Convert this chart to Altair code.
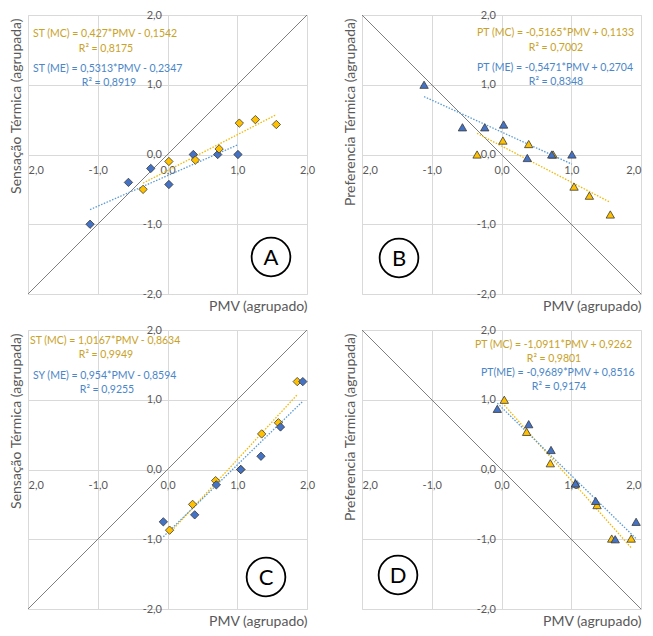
import json
import altair as alt
import pandas as pd

# ---------------- data ----------------
tick_values = [-2, -1, 0, 1, 2]
x_tick_labels = ["2,0", "-1,0", "0,0", "1,0", "2,0"]      # left "-2,0" is clipped in the original
y_tick_labels = ["-2,0", "-1,0", "0,0", "1,0", "2,0"]

diag_x = [-2, 2]
diag_up = [-2, 2]
diag_down = [2, -2]

# Panel A  (Sensação Térmica vs PMV)
A_mc_x = [-0.35, 0.02, 0.40, 0.74, 1.03, 1.26, 1.56]
A_mc_y = [-0.50, -0.10, -0.08, 0.08, 0.45, 0.50, 0.43]
A_me_x = [-1.11, -0.56, -0.24, 0.02, 0.37, 0.72, 1.01]
A_me_y = [-1.00, -0.40, -0.20, -0.43, 0.00, 0.00, 0.00]

# Panel B  (Preferencia Térmica vs PMV)
B_mc_x = [-0.35, 0.02, 0.39, 0.74, 1.04, 1.26, 1.56]
B_mc_y = [0.00, 0.20, 0.15, 0.00, -0.46, -0.59, -0.86]
B_me_x = [-1.11, -0.56, -0.24, 0.03, 0.37, 0.72, 1.01]
B_me_y = [1.00, 0.39, 0.39, 0.43, -0.05, 0.00, 0.00]

# Panel C
C_mc_x = [0.03, 0.36, 0.69, 1.05, 1.35, 1.59, 1.86]
C_mc_y = [-0.87, -0.50, -0.16, 0.00, 0.51, 0.67, 1.26]
C_me_x = [-0.06, 0.39, 0.70, 1.05, 1.34, 1.62, 1.94]
C_me_y = [-0.75, -0.65, -0.22, 0.00, 0.19, 0.61, 1.26]

# Panel D
D_mc_x = [0.04, 0.36, 0.70, 1.06, 1.37, 1.58, 1.86]
D_mc_y = [1.00, 0.54, 0.09, -0.20, -0.51, -0.99, -0.99]
D_me_x = [-0.06, 0.39, 0.71, 1.06, 1.35, 1.63, 1.93]
D_me_y = [0.87, 0.65, 0.28, -0.20, -0.45, -1.00, -0.75]

# annotation texts
A_txt = ["ST (MC) = 0,427*PMV - 0,1542", "R² = 0,8175", "ST (ME) = 0,5313*PMV - 0,2347", "R² = 0,8919"]
B_txt = ["PT (MC) = -0,5165*PMV + 0,1133", "R² = 0,7002", "PT (ME) = -0,5471*PMV + 0,2704", "R² = 0,8348"]
C_txt = ["ST (MC) = 1,0167*PMV - 0,8634", "R² = 0,9949", "SY (ME) = 0,954*PMV - 0,8594", "R² = 0,9255"]
D_txt = ["PT (MC) = -1,0911*PMV + 0,9262", "R² = 0,9801", "PT(ME) = -0,9689*PMV + 0,8516", "R² = 0,9174"]

x_title = "PMV (agrupado)"
yA_title = "Sensação Térmica (agrupada)"
yB_title = "Preferencia Térmica (agrupada)"

# ---------------- styling ----------------
W = H = 279
FONT = "Lato"
GRAY = "#595959"
ORANGE = "#FFC000"
BLUE = "#4472C4"
ORANGE_TREND = "#F2B800"
BLUE_TREND = "#5B9BD5"
ORANGE_TXT = "#C9A227"
BLUE_TXT = "#4A86C8"

x_label_expr = json.dumps(x_tick_labels) + "[datum.value + 2]"
y_label_expr = json.dumps(y_tick_labels) + "[datum.value + 2]"

sc = alt.Scale(domain=[-2, 2], nice=False, zero=False)


def x_axis(right_flush):
    test_right = "datum.value == 2" if right_flush else "datum.value == 99"
    return alt.Axis(
        values=tick_values, labelExpr=x_label_expr, orient="bottom", offset=-H / 2,
        grid=True, gridColor="#D9D9D9", domain=False, ticks=False, tickSize=0,
        labelPadding=10, labelFont=FONT, labelFontSize=11, labelColor=GRAY,
        labelFlush=False, labelOverlap=False,
        labelAlign={"condition": [{"test": "datum.value == -2", "value": "left"},
                                  {"test": test_right, "value": "right"}],
                    "value": "center"},
        title=x_title, titleX=W, titleY=H / 2 + 12, titleAlign="right", titleBaseline="middle",
        titleFont=FONT, titleFontSize=14, titleFontWeight="normal", titleColor=GRAY,
    )


def y_axis(title):
    return alt.Axis(
        values=tick_values, labelExpr=y_label_expr, orient="left", offset=-W / 2,
        grid=True, gridColor="#D9D9D9", domain=False, ticks=False, tickSize=0,
        labelPadding=6, labelFont=FONT, labelFontSize=11, labelColor=GRAY,
        labelFlush=False, labelOverlap=False,
        title=title, titleX=-W / 2 - 12, titleY=3, titleAngle=270, titleAlign="right",
        titleBaseline="middle", titleFont=FONT, titleFontSize=14, titleFontWeight="normal",
        titleColor=GRAY,
    )


def panel(mc_x, mc_y, me_x, me_y, diag_y, shape, texts, txt_pos, letter, circ_pos, ytitle,
          orange_top, right_flush):
    mc = pd.DataFrame({"x": mc_x, "y": mc_y})
    me = pd.DataFrame({"x": me_x, "y": me_y})
    dg = pd.DataFrame({"x": diag_x, "y": diag_y})

    X = alt.X("x:Q", scale=sc, axis=x_axis(right_flush))
    Y = alt.Y("y:Q", scale=sc, axis=y_axis(ytitle))

    base = alt.Chart(dg).mark_line(color="#7F7F7F", strokeWidth=1).encode(x=X, y=Y)

    def trend(df, color):
        return alt.Chart(df).transform_regression("x", "y").mark_line(
            color=color, strokeWidth=1.3, strokeDash=[1.5, 1.5]
        ).encode(x=X, y=Y)

    def pts(df, color):
        return alt.Chart(df).mark_point(
            shape=shape, filled=True, fill=color, stroke="#3A3A3A", strokeWidth=0.8,
            size=70, opacity=1,
        ).encode(x=X, y=Y)

    layers = [base, trend(mc, ORANGE_TREND), trend(me, BLUE_TREND)]
    if orange_top:
        layers += [pts(me, BLUE), pts(mc, ORANGE)]
    else:
        layers += [pts(mc, ORANGE), pts(me, BLUE)]

    one = pd.DataFrame({"t": [0]})
    colors = [ORANGE_TXT, ORANGE_TXT, BLUE_TXT, BLUE_TXT]
    aligns = ["left", "center", "left", "center"]
    for t, (px, py), c, al in zip(texts, txt_pos, colors, aligns):
        layers.append(
            alt.Chart(one).mark_text(
                text=t, font=FONT, fontSize=10.5, color=c, align=al, baseline="middle"
            ).encode(x=alt.value(px), y=alt.value(py))
        )
    layers.append(
        alt.Chart(one).mark_point(
            shape="circle", filled=False, size=1500, color="black", strokeWidth=1.8, opacity=1
        ).encode(x=alt.value(circ_pos[0]), y=alt.value(circ_pos[1]))
    )
    layers.append(
        alt.Chart(one).mark_text(
            text=letter, font=FONT, fontSize=22, color="black", align="center", baseline="middle"
        ).encode(x=alt.value(circ_pos[0]), y=alt.value(circ_pos[1] + 1))
    )
    return alt.layer(*layers).properties(width=W, height=H)


pA = panel(A_mc_x, A_mc_y, A_me_x, A_me_y, diag_up, "diamond", A_txt,
           [(5, 19), (78, 34), (5, 54), (81, 68)], "A", (W - 36, H - 37), yA_title, True, False)
pB = panel(B_mc_x, B_mc_y, B_me_x, B_me_y, diag_down, "triangle-up", B_txt,
           [(115, 18), (194, 33), (115, 53), (194, 67)], "B", (37, H - 36), yB_title, False, True)
pC = panel(C_mc_x, C_mc_y, C_me_x, C_me_y, diag_up, "diamond", C_txt,
           [(2, 11), (78, 25), (5, 46), (79, 60)], "C", (W - 41, H - 32), yA_title, False, False)
pD = panel(D_mc_x, D_mc_y, D_me_x, D_me_y, diag_down, "triangle-up", D_txt,
           [(113, 15), (192, 29), (119, 43), (197, 57)], "D", (36, H - 34), yB_title, False, True)

chart = alt.vconcat(
    alt.hconcat(pA, pB, spacing=26),
    alt.hconcat(pC, pD, spacing=26),
    spacing=9,
).configure_view(stroke="#7F7F7F", strokeWidth=1).configure(
    padding={"left": 0, "top": 0, "right": 0, "bottom": 0}, background="white"
)

chart.save("out.html", embed_options={"renderer": "svg", "actions": False})
